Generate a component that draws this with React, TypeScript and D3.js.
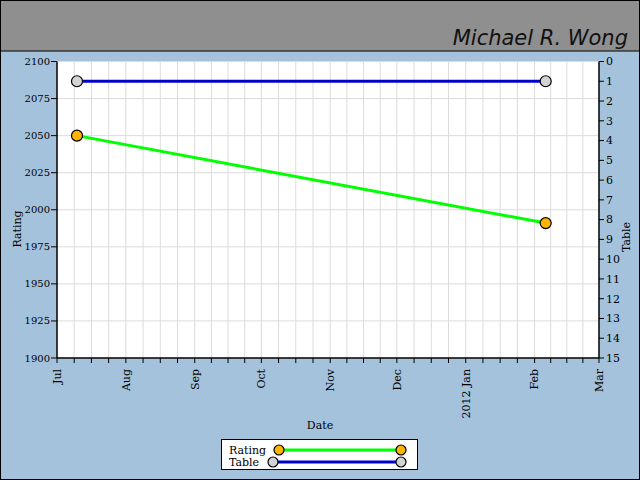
import * as d3 from "d3";

// values
const ratingDates = [new Date(2011, 6, 10), new Date(2012, 1, 6)];
const ratingValues = [2050, 1991];
const tableDates = [new Date(2011, 6, 10), new Date(2012, 1, 6)];
const tableValues = [1, 1];
const ratingTicks = [1900, 1925, 1950, 1975, 2000, 2025, 2050, 2075, 2100];
const tableTicks = d3.range(0, 16);

const W = 640;
const H = 480;
const margin = { top: 61.5, right: 41, bottom: 122, left: 57 };
const FONT = "DejaVu Serif";

const x = d3
  .scaleTime()
  .domain([new Date(2011, 6, 1), new Date(2012, 2, 1)])
  .range([margin.left, W - margin.right]);
const yRating = d3
  .scaleLinear()
  .domain([1900, 2100])
  .range([H - margin.bottom, margin.top]);
const yTable = d3
  .scaleLinear()
  .domain([15, 0])
  .range([H - margin.bottom, margin.top]);

const months = d3.timeMonth.range(x.domain()[0], d3.timeMonth.offset(x.domain()[1], 1));
// each month split into quarters for the minor ticks
const minor: Date[] = [];
months.slice(0, -1).forEach((m) => {
  const next = d3.timeMonth.offset(m, 1);
  for (let k = 1; k < 4; k++) {
    minor.push(new Date(+m + ((+next - +m) * k) / 4));
  }
});
const allX = [...months, ...minor];

const fmtMonth = (d: Date) =>
  d.getMonth() === 0 ? d3.timeFormat("%Y %b")(d) : d3.timeFormat("%b")(d);

const App = () => {
  const x0 = margin.left;
  const x1 = W - margin.right;
  const y0 = margin.top;
  const y1 = H - margin.bottom;
  const ratingLine = d3
    .line<number>()
    .x((_, i) => x(ratingDates[i]))
    .y((d) => yRating(d));
  const tableLine = d3
    .line<number>()
    .x((_, i) => x(tableDates[i]))
    .y((d) => yTable(d));

  return (
    <svg
      width={W}
      height={H}
      style={{ position: "absolute", left: 0, top: 0 }}
      fontFamily={FONT}
      fontSize={10}
    >
      <rect x={0} y={0} width={W} height={H} fill="#a5c2dc" />
      <rect x={0.5} y={0.5} width={W - 1} height={50.5} fill="#8f8f8f" stroke="#000" />
      <text
        x={628}
        y={45}
        textAnchor="end"
        fontFamily="DejaVu Sans"
        fontStyle="italic"
        fontWeight={200}
        fontSize={21}
        fill="#111"
      >
        Michael R. Wong
      </text>

      {/* plot area */}
      <rect x={x0} y={y0} width={x1 - x0} height={y1 - y0} fill="#fff" />
      {allX.map((d, i) => (
        <line key={"gx" + i} x1={x(d)} x2={x(d)} y1={y0} y2={y1} stroke="#dcdcdc" />
      ))}
      {ratingTicks.map((t) => (
        <line key={"gy" + t} x1={x0} x2={x1} y1={yRating(t)} y2={yRating(t)} stroke="#dcdcdc" />
      ))}

      {/* left axis */}
      <line x1={x0} x2={x0} y1={y0} y2={y1} stroke="#000" strokeWidth={1.5} />
      {ratingTicks.map((t) => (
        <g key={"ly" + t} transform={`translate(${x0},${yRating(t)})`}>
          <line x1={-6} x2={0} stroke="#000" />
          <text x={-7} dy="0.35em" textAnchor="end">
            {t}
          </text>
        </g>
      ))}
      <text transform={`translate(21,229) rotate(-90)`} textAnchor="middle" fontSize={11}>
        Rating
      </text>

      {/* right axis */}
      <line x1={x1} x2={x1} y1={y0} y2={y1} stroke="#000" strokeWidth={1.5} />
      {tableTicks.map((t) => (
        <g key={"ry" + t} transform={`translate(${x1},${yTable(t)})`}>
          <line x1={0} x2={5} stroke="#000" />
          <text x={7} dy="0.35em" textAnchor="start" fontSize={11}>
            {t}
          </text>
        </g>
      ))}
      <text transform={`translate(630,237) rotate(-90)`} textAnchor="middle" fontSize={11}>
        Table
      </text>

      {/* bottom axis */}
      <line x1={x0} x2={x1} y1={y1} y2={y1} stroke="#000" strokeWidth={1.5} />
      {allX.map((d, i) => (
        <line key={"tx" + i} x1={x(d)} x2={x(d)} y1={y1} y2={y1 + 5} stroke="#000" />
      ))}
      {months.map((d, i) => (
        <text
          key={"lx" + i}
          transform={`translate(${x(d)},${y1 + 11}) rotate(-90)`}
          textAnchor="end"
          dy="0.35em"
          fontSize={11}
        >
          {fmtMonth(d)}
        </text>
      ))}
      <text x={320} y={429} textAnchor="middle" fontSize={11}>
        Date
      </text>

      {/* series */}
      <path d={tableLine(tableValues) || ""} fill="none" stroke="#0000cc" strokeWidth={3} />
      <path d={ratingLine(ratingValues) || ""} fill="none" stroke="#00ff00" strokeWidth={3} />
      {tableValues.map((v, i) => (
        <circle key={"tc" + i} cx={x(tableDates[i])} cy={yTable(v)} r={5.5} fill="#d3d3d3" stroke="#000" strokeWidth={1.2} />
      ))}
      {ratingValues.map((v, i) => (
        <circle key={"rc" + i} cx={x(ratingDates[i])} cy={yRating(v)} r={5.5} fill="#ffb400" stroke="#000" strokeWidth={1.2} />
      ))}

      {/* legend */}
      <rect x={221.5} y={439.5} width={196} height={30} fill="#fff" stroke="#000" />
      <text x={229} y={454} fontSize={11}>Rating</text>
      <text x={229} y={466} fontSize={11}>Table</text>
      <line x1={279} x2={401} y1={450} y2={450} stroke="#00ff00" strokeWidth={3} />
      <circle cx={279} cy={450} r={5} fill="#ffb400" stroke="#000" strokeWidth={1.2} />
      <circle cx={401} cy={450} r={5} fill="#ffb400" stroke="#000" strokeWidth={1.2} />
      <line x1={273} x2={401} y1={462} y2={462} stroke="#0000cc" strokeWidth={3} />
      <circle cx={273} cy={462} r={5} fill="#d3d3d3" stroke="#000" strokeWidth={1.2} />
      <circle cx={401} cy={462} r={5} fill="#d3d3d3" stroke="#000" strokeWidth={1.2} />

      <rect x={0.5} y={0.5} width={W - 1} height={H - 1} fill="none" stroke="#000" />
    </svg>
  );
};

export default App;
